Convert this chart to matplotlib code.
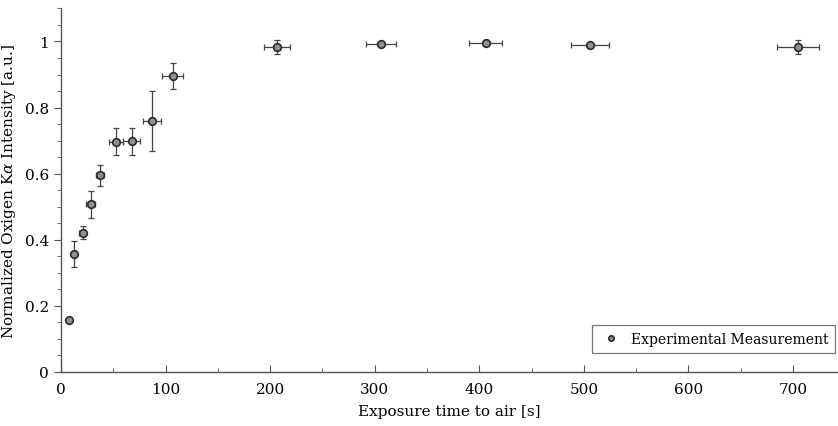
import numpy as np
import matplotlib
matplotlib.use("Agg")
import matplotlib.pyplot as plt
from matplotlib.ticker import MultipleLocator

# data
time_s = [7.9, 12.7, 20.7, 28.4, 37.3, 52.6, 67.6, 87.0, 107.0,
          206.5, 305.9, 406.0, 505.7, 705.0]
time_err = [0, 2, 3.5, 4.5, 4, 6.7, 8, 8.5, 10,
            12.5, 14.3, 16, 18, 20]
intensity = [0.157, 0.357, 0.421, 0.507, 0.595, 0.696, 0.698, 0.760, 0.895,
             0.983, 0.991, 0.995, 0.988, 0.983]
intensity_err = [0.0, 0.04, 0.02, 0.04, 0.032, 0.041, 0.041, 0.09, 0.04,
                 0.022, 0.006, 0.005, 0.008, 0.02]

plt.rcParams['font.family'] = ['DejaVu Serif']
plt.rcParams['mathtext.fontset'] = 'dejavuserif'

fig = plt.figure(figsize=(8.38, 4.27), dpi=100)
ax = fig.add_axes([0.0728, 0.1265, 1.0 - 0.0728, 0.978 - 0.1265])

ax.errorbar(time_s, intensity, xerr=time_err, yerr=intensity_err,
            fmt='none', ecolor='#444444', elinewidth=0.9, capsize=2.5,
            capthick=0.9, zorder=2)
ax.plot(time_s, intensity, 'o', ms=5.5, mfc='#8f8f8f', mec='#2a2a2a',
        mew=1.2, ls='none', zorder=3, label='Experimental Measurement')

ax.set_xlim(0, 743)
ax.set_ylim(0, 1.10)
ax.xaxis.set_major_locator(MultipleLocator(100))
ax.xaxis.set_minor_locator(MultipleLocator(50))
ax.yaxis.set_major_locator(MultipleLocator(0.2))
ax.yaxis.set_minor_locator(MultipleLocator(0.05))
ax.set_yticks([0, 0.2, 0.4, 0.6, 0.8, 1.0])
ax.set_yticklabels(['0', '0.2', '0.4', '0.6', '0.8', '1'])

ax.spines['top'].set_visible(False)
ax.spines['right'].set_visible(False)
for s in ('left', 'bottom'):
    ax.spines[s].set_color('#555555')
    ax.spines[s].set_linewidth(1.0)

ax.tick_params(axis='x', which='both', direction='in', color='#555555',
               labelsize=11, pad=7)
ax.tick_params(axis='x', which='major', length=5)
ax.tick_params(axis='x', which='minor', length=3)
ax.tick_params(axis='y', which='both', direction='out', color='#555555',
               labelsize=11)
ax.tick_params(axis='y', which='major', length=5)
ax.tick_params(axis='y', which='minor', length=3)

ax.set_xlabel('Exposure time to air [s]', fontsize=11, labelpad=6)
ax.set_ylabel(r'Normalized Oxigen K$\alpha$ Intensity [a.u.]', fontsize=11,
              labelpad=5)

leg = ax.legend(loc='lower left', bbox_to_anchor=(0.683, 0.052),
                borderaxespad=0, fontsize=10, frameon=True, fancybox=False,
                borderpad=0.5, handletextpad=0.5, handlelength=1.8,
                markerscale=0.7)
leg.get_frame().set_edgecolor('#555555')
leg.get_frame().set_linewidth(0.9)

fig.savefig('out.png', dpi=100)
